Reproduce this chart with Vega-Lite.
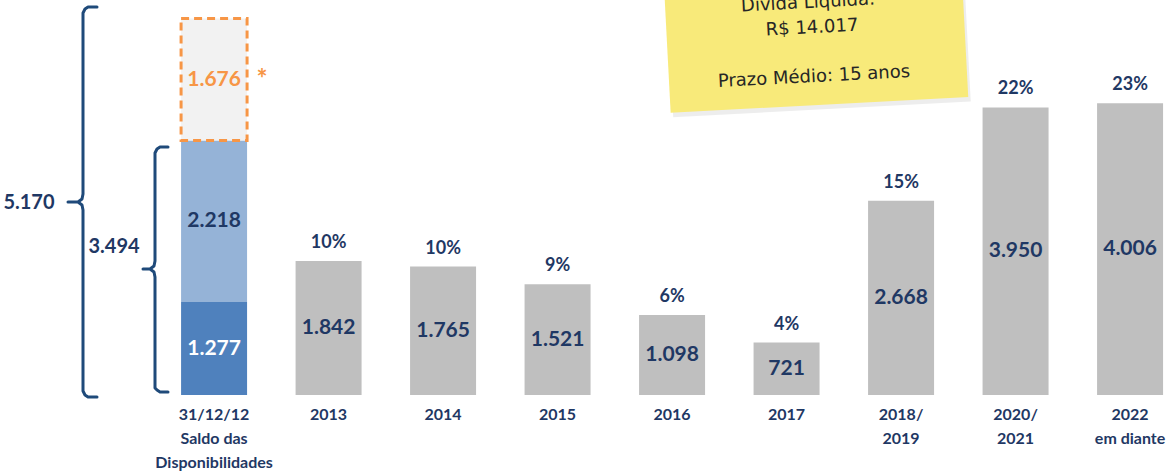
{
  "$schema": "https://vega.github.io/schema/vega-lite/v6.json",
  "width": 1171,
  "height": 395,
  "autosize": {"type": "none"},
  "padding": {"left": 0, "right": 0, "top": 0, "bottom": 81},
  "background": "white",
  "config": {
    "view": {"stroke": null},
    "font": "Lato",
    "locale": {"number": {"decimal": ",", "thousands": ".", "grouping": [3], "currency": ["R$ ", ""]}}
  },
  "datasets": {
    "bars": [
      {"cat": "31/12/12\nSaldo das\nDisponibilidades", "seg": "dark", "ord": 1, "value": 1277},
      {"cat": "31/12/12\nSaldo das\nDisponibilidades", "seg": "light", "ord": 2, "value": 2218},
      {"cat": "31/12/12\nSaldo das\nDisponibilidades", "seg": "extra", "ord": 3, "value": 1676},
      {"cat": "2013", "seg": "gray", "ord": 1, "value": 1842, "pct": 0.10},
      {"cat": "2014", "seg": "gray", "ord": 1, "value": 1765, "pct": 0.10},
      {"cat": "2015", "seg": "gray", "ord": 1, "value": 1521, "pct": 0.09},
      {"cat": "2016", "seg": "gray", "ord": 1, "value": 1098, "pct": 0.06},
      {"cat": "2017", "seg": "gray", "ord": 1, "value": 721, "pct": 0.04},
      {"cat": "2018/\n2019", "seg": "gray", "ord": 1, "value": 2668, "pct": 0.15},
      {"cat": "2020/\n2021", "seg": "gray", "ord": 1, "value": 3950, "pct": 0.22},
      {"cat": "2022\nem diante", "seg": "gray", "ord": 1, "value": 4006, "pct": 0.23}
    ],
    "braces": [
      {"brace": "total", "i": 1, "sx": -1.0218, "v": 5329.7},
      {"brace": "total", "i": 2, "sx": -1.1004, "v": 5329.7},
      {"brace": "total", "i": 3, "sx": -1.1266, "v": 5302.2},
      {"brace": "total", "i": 4, "sx": -1.1441, "v": 5247.3},
      {"brace": "total", "i": 5, "sx": -1.1441, "v": 2761.0},
      {"brace": "total", "i": 6, "sx": -1.1528, "v": 2692.3},
      {"brace": "total", "i": 7, "sx": -1.1878, "v": 2651.1},
      {"brace": "total", "i": 8, "sx": -1.2751, "v": 2651.1},
      {"brace": "total", "i": 9, "sx": -1.1878, "v": 2651.1},
      {"brace": "total", "i": 10, "sx": -1.1528, "v": 2609.9},
      {"brace": "total", "i": 11, "sx": -1.1441, "v": 2541.2},
      {"brace": "total", "i": 12, "sx": -1.1441, "v": 54.9},
      {"brace": "total", "i": 13, "sx": -1.1266, "v": 0},
      {"brace": "total", "i": 14, "sx": -1.1004, "v": -27.5},
      {"brace": "total", "i": 15, "sx": -1.0218, "v": -27.5},
      {"brace": "caixa", "i": 1, "sx": -0.4017, "v": 3406.6},
      {"brace": "caixa", "i": 2, "sx": -0.4716, "v": 3406.6},
      {"brace": "caixa", "i": 3, "sx": -0.4978, "v": 3379.1},
      {"brace": "caixa", "i": 4, "sx": -0.5153, "v": 3324.2},
      {"brace": "caixa", "i": 5, "sx": -0.5153, "v": 1840.7},
      {"brace": "caixa", "i": 6, "sx": -0.5240, "v": 1772.0},
      {"brace": "caixa", "i": 7, "sx": -0.5590, "v": 1730.8},
      {"brace": "caixa", "i": 8, "sx": -0.6201, "v": 1730.8},
      {"brace": "caixa", "i": 9, "sx": -0.5590, "v": 1730.8},
      {"brace": "caixa", "i": 10, "sx": -0.5240, "v": 1689.6},
      {"brace": "caixa", "i": 11, "sx": -0.5153, "v": 1620.9},
      {"brace": "caixa", "i": 12, "sx": -0.5153, "v": 96.2},
      {"brace": "caixa", "i": 13, "sx": -0.4978, "v": 68.7},
      {"brace": "caixa", "i": 14, "sx": -0.4716, "v": 41.2},
      {"brace": "caixa", "i": 15, "sx": -0.4017, "v": 41.2}
    ],
    "totals": [
      {"sx": -1.616, "v": 2637, "value": 5170},
      {"sx": -0.873, "v": 2033, "value": 3494}
    ],
    "marks": [
      {"sx": 0.419, "v": 4330, "txt": "*"}
    ],
    "note": [
      {"sx": 5.258, "v": 4876}
    ],
    "noteShadow": [
      {"sx": 5.28, "v": 4815}
    ],
    "noteText": [
      {"sx": 5.188, "v": 5385, "txt": "Dívida Líquida:"},
      {"sx": 5.223, "v": 5041, "txt": "R$ 14.017"},
      {"sx": 5.240, "v": 4368, "txt": "Prazo Médio: 15 anos"}
    ]
  },
  "layer": [
    {
      "data": {"name": "bars"},
      "transform": [
        {"stack": "value", "groupby": ["cat"], "sort": [{"field": "ord", "order": "ascending"}], "as": ["v0", "v1"]},
        {"calculate": "(datum.v0 + datum.v1) / 2", "as": "mid"}
      ],
      "encoding": {
        "x": {
          "field": "cat",
          "type": "nominal",
          "scale": {
            "domain": ["31/12/12\nSaldo das\nDisponibilidades", "2013", "2014", "2015", "2016", "2017", "2018/\n2019", "2020/\n2021", "2022\nem diante"],
            "paddingInner": 0.4236,
            "paddingOuter": 0.8254,
            "align": 0.958
          },
          "axis": {
            "title": null,
            "domain": false,
            "ticks": false,
            "grid": false,
            "labelAngle": 0,
            "labelFont": "Lato",
            "labelFontWeight": "bold",
            "labelFontSize": 16,
            "labelColor": "#1F3864",
            "labelLineHeight": 24,
            "labelPadding": 11,
            "labelOverlap": false,
            "labelBound": false,
            "labelLimit": 0,
            "labelBaseline": "top",
            "labelExpr": "split(datum.label, '\\n')"
          }
        }
      },
      "layer": [
        {
          "mark": {"type": "bar"},
          "encoding": {
            "y": {"field": "v1", "type": "quantitative", "scale": {"domain": [0, 5426], "nice": false, "zero": false}, "axis": null},
            "y2": {"field": "v0"},
            "color": {
              "field": "seg",
              "type": "nominal",
              "scale": {"domain": ["gray", "dark", "light", "extra"], "range": ["#BFBFBF", "#4F81BD", "#95B3D7", "#F2F2F2"]},
              "legend": null
            }
          }
        },
        {
          "transform": [{"filter": "datum.seg === 'extra'"}],
          "mark": {"type": "bar", "fillOpacity": 0, "stroke": "#F79646", "strokeWidth": 3, "strokeDash": [8, 5]},
          "encoding": {
            "y": {"field": "v1", "type": "quantitative", "scale": {"domain": [0, 5426], "nice": false, "zero": false}, "axis": null},
            "y2": {"field": "v0"}
          }
        },
        {
          "mark": {"type": "text", "font": "Lato", "fontWeight": "bold", "fontSize": 21, "baseline": "middle", "align": "center"},
          "encoding": {
            "y": {"field": "mid", "type": "quantitative", "scale": {"domain": [0, 5426], "nice": false, "zero": false}, "axis": null},
            "text": {"field": "value", "type": "quantitative", "format": ",d"},
            "color": {
              "condition": [
                {"test": "datum.seg === 'dark'", "value": "#FFFFFF"},
                {"test": "datum.seg === 'extra'", "value": "#F79646"}
              ],
              "value": "#1F3864"
            }
          }
        },
        {
          "transform": [{"filter": "isValid(datum.pct)"}],
          "mark": {"type": "text", "font": "Lato", "fontWeight": "bold", "fontSize": 18, "baseline": "middle", "align": "center", "dy": -18, "color": "#1F3864"},
          "encoding": {
            "y": {"field": "v1", "type": "quantitative", "scale": {"domain": [0, 5426], "nice": false, "zero": false}, "axis": null},
            "text": {"field": "pct", "type": "quantitative", "format": ".0%"}
          }
        }
      ]
    },
    {
      "encoding": {
        "x": {"field": "sx", "type": "quantitative", "scale": {"domain": [-1.869, 8.358], "nice": false, "zero": false}, "axis": null},
        "y": {"field": "v", "type": "quantitative", "scale": {"domain": [0, 5426], "nice": false, "zero": false}, "axis": null}
      },
      "layer": [
        {
          "data": {"name": "noteShadow"},
          "mark": {"type": "point", "shape": "M-1,-0.436L1,-0.436L1,0.436L-1,0.436Z", "size": 88804, "angle": -3, "filled": true, "fill": "#000000", "opacity": 0.07, "strokeWidth": 0}
        },
        {
          "data": {"name": "note"},
          "mark": {"type": "point", "shape": "M-1,-0.436L1,-0.436L1,0.436L-1,0.436Z", "size": 88804, "angle": -3, "filled": true, "fill": "#F8EA7A", "opacity": 1, "strokeWidth": 0}
        },
        {
          "data": {"name": "noteText"},
          "mark": {"type": "text", "font": "DejaVu Sans", "fontSize": 18, "angle": -3, "baseline": "middle", "align": "center", "color": "#262626"},
          "encoding": {"text": {"field": "txt", "type": "nominal"}}
        },
        {
          "data": {"name": "braces"},
          "mark": {"type": "line", "color": "#1F4A7A", "strokeWidth": 3, "strokeJoin": "round", "strokeCap": "round"},
          "encoding": {
            "detail": {"field": "brace", "type": "nominal"},
            "order": {"field": "i", "type": "quantitative"}
          }
        },
        {
          "data": {"name": "totals"},
          "mark": {"type": "text", "font": "Lato", "fontWeight": "bold", "fontSize": 20, "baseline": "middle", "align": "center", "color": "#1F3864"},
          "encoding": {"text": {"field": "value", "type": "quantitative", "format": ",d"}}
        },
        {
          "data": {"name": "marks"},
          "mark": {"type": "text", "font": "Lato", "fontWeight": "bold", "fontSize": 26, "baseline": "middle", "align": "center", "color": "#F79646"},
          "encoding": {"text": {"field": "txt", "type": "nominal"}}
        }
      ]
    }
  ],
  "resolve": {"scale": {"x": "independent"}}
}
